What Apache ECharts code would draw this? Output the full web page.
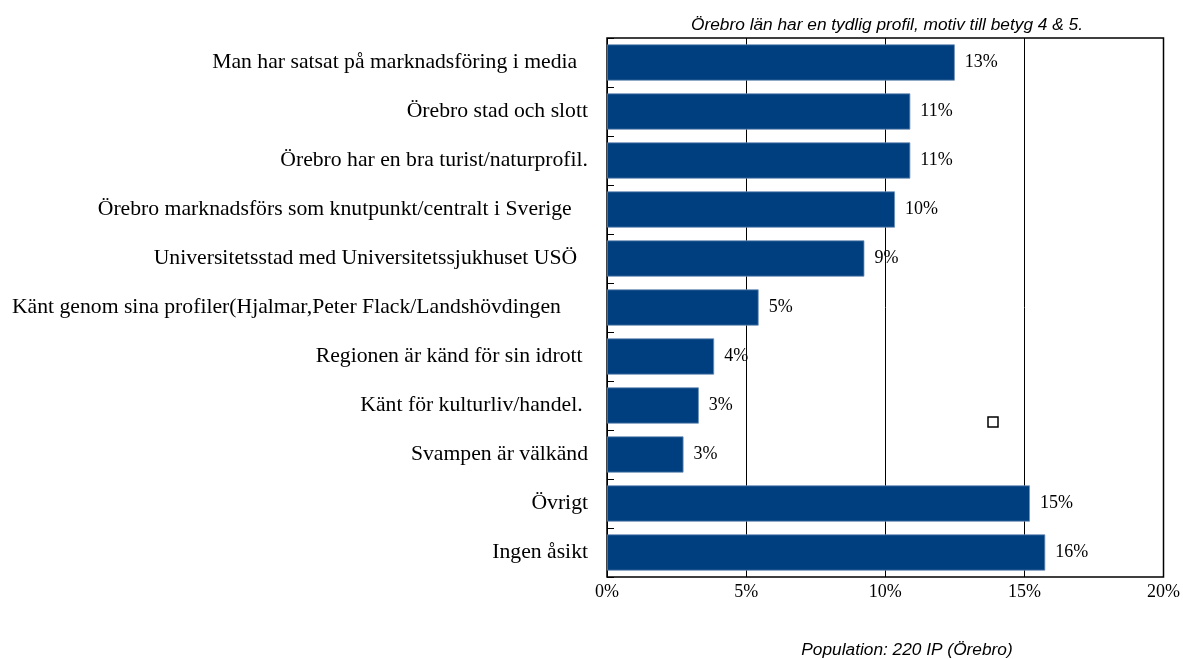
<!DOCTYPE html>
<html>
<head>
<meta charset="utf-8">
<script src="https://cdn.jsdelivr.net/npm/echarts@6/dist/echarts.min.js"></script>
<style>
  html, body { margin: 0; padding: 0; background: #fff; }
  #main { width: 1183px; height: 659px; }
</style>
</head>
<body>
<div id="main"></div>
<script>
// kategorier (trailing spaces as in the original sheet)
const categories = [
  "Man har satsat på marknadsföring i media  ",
  "Örebro stad och slott",
  "Örebro har en bra turist/naturprofil.",
  "Örebro marknadsförs som knutpunkt/centralt i Sverige   ",
  "Universitetsstad med Universitetssjukhuset USÖ  ",
  "Känt genom sina profiler(Hjalmar,Peter Flack/Landshövdingen     ",
  "Regionen är känd för sin idrott ",
  "Känt för kulturliv/handel. ",
  "Svampen är välkänd",
  "Övrigt",
  "Ingen åsikt"
];
const values = [12.5, 10.9, 10.9, 10.35, 9.25, 5.45, 3.85, 3.3, 2.75, 15.2, 15.75];
const xTicks = [0, 5, 10, 15, 20];

const myChart = echarts.init(document.getElementById("main"));

const option = {
  animation: false,
  title: [
    {
      text: "Örebro län har en tydlig profil, motiv till betyg 4 & 5.",
      left: 882, top: 12, textAlign: "center",
      textStyle: { fontFamily: "Liberation Sans", fontStyle: "italic", fontWeight: "normal", fontSize: 17.3, color: "#000" }
    },
    {
      text: "Population: 220 IP (Örebro)",
      left: 902, top: 637, textAlign: "center",
      textStyle: { fontFamily: "Liberation Sans", fontStyle: "italic", fontWeight: "normal", fontSize: 17.3, color: "#000" }
    }
  ],
  grid: {
    left: 607, right: 18, top: 38, bottom: 82,
    show: true, borderColor: "#000", borderWidth: 1.5, backgroundColor: "#fff"
  },
  xAxis: {
    type: "value",
    min: xTicks[0], max: xTicks[xTicks.length - 1], interval: 5,
    axisLine: { show: false },
    axisTick: { show: false },
    splitLine: { show: true, lineStyle: { color: "#000", width: 1 } },
    axisLabel: {
      formatter: "{value}%", margin: 6,
      fontFamily: "Liberation Serif", fontSize: 18, color: "#000"
    }
  },
  yAxis: {
    type: "category",
    data: categories,
    inverse: true,
    axisLine: { show: false },
    axisTick: { show: true, inside: true, length: 7, lineStyle: { color: "#000" } },
    axisLabel: {
      margin: 19, fontFamily: "Liberation Serif", fontSize: 21.7, color: "#000"
    }
  },
  graphic: [
    {
      type: "rect",
      shape: { x: 988, y: 417, width: 10, height: 10 },
      style: { fill: "#fff", stroke: "#000", lineWidth: 1.5 }
    }
  ],
  series: [
    {
      type: "bar",
      data: values,
      barCategoryGap: "26%",
      itemStyle: { color: "#003f7f", borderColor: "#6f8fb8", borderWidth: 0.8 },
      label: {
        show: true, position: "right", distance: 10,
        formatter: (p) => Math.round(p.value) + "%",
        fontFamily: "Liberation Serif", fontSize: 18, color: "#000"
      }
    }
  ]
};

option && myChart.setOption(option);
</script>
</body>
</html>
